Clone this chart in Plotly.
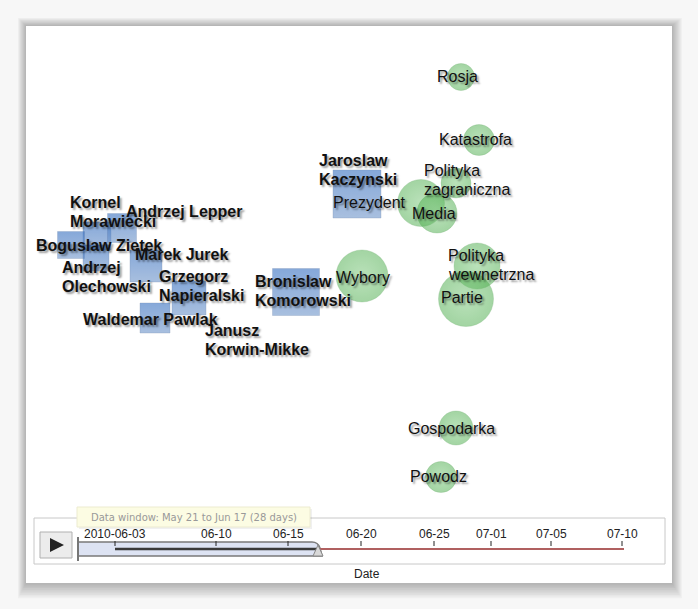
import plotly.graph_objects as go

# ---------------- data ----------------
person_names = ["Kornel Morawiecki", "Andrzej Lepper", "Boguslaw Zietek", "Andrzej Olechowski",
                "Marek Jurek", "Grzegorz Napieralski", "Waldemar Pawlak", "Janusz Korwin-Mikke",
                "Bronislaw Komorowski", "Jaroslaw Kaczynski"]
person_labels = ["Kornel<br>Morawiecki", "Andrzej Lepper", "Boguslaw Zietek", "Andrzej<br>Olechowski",
                 "Marek Jurek", "Grzegorz<br>Napieralski", "Waldemar Pawlak", "Janusz<br>Korwin-Mikke",
                 "Bronislaw<br>Komorowski", "Jaroslaw<br>Kaczynski"]
person_x = [97, 122, 71, 96, 146, 189, 155, 230, 296, 357]
person_y = [236, 228, 245, 258, 266, 298, 318, 338, 292, 194]
person_size = [28, 29, 27, 26, 32, 34, 30, 0, 47, 48]
person_label_x = [68, 124, 34, 60, 133, 157, 81, 203, 253, 317]
person_label_y = [212, 211, 245, 277, 254, 286, 319, 340, 291, 170]

topic_names = ["Rosja", "Katastrofa", "Polityka zagraniczna", "Prezydent", "Media", "Wybory",
               "Polityka wewnetrzna", "Partie", "Gospodarka", "Powodz"]
topic_labels = ["Rosja", "Katastrofa", "Polityka<br>zagraniczna", "Prezydent", "Media", "Wybory",
                "Polityka<br>wewnetrzna", "Partie", "Gospodarka", "Powodz"]
topic_x = [461, 479, 456, 421, 437, 362, 477, 466, 456, 441]
topic_y = [77, 140, 183, 203, 213, 276, 266, 299, 428, 477]
topic_size = [27, 31, 30, 47, 40, 52, 46, 55, 34, 31]
topic_label_x = [435, 437, 422, 331, 410, 334, 446, 439, 406, 408]
topic_label_y = [76, 139, 180, 202, 213, 277, 265, 297, 428, 476]

tick_labels = ["2010-06-03", "06-10", "06-15", "06-20", "06-25", "07-01", "07-05", "07-10"]
tick_pos = [115, 216, 288, 361, 434, 491, 551, 622]
window_text = "Data window: May 21 to Jun 17 (28 days)"
axis_title = "Date"

# ---------------- figure ----------------
W, H = 698, 609
LINE_GAP = 18.5
fig = go.Figure()

fig.add_trace(go.Scatter(
    x=topic_x, y=topic_y, mode="markers", text=topic_names, hoverinfo="text",
    marker=dict(symbol="circle", size=topic_size, color="rgba(80,175,80,0.75)",
                gradient=dict(type="radial", color="rgba(125,200,125,0.75)"),
                line=dict(width=0.6, color="rgba(70,150,70,0.5)")),
    showlegend=False))

fig.add_trace(go.Scatter(
    x=person_x, y=person_y, mode="markers", text=person_names, hoverinfo="text",
    marker=dict(symbol="square", size=person_size, color="rgba(45,105,190,0.82)",
                gradient=dict(type="vertical", color="rgba(105,145,200,0.82)"),
                line=dict(width=0.6, color="rgba(70,100,150,0.5)")),
    showlegend=False))

shadow = "2px 2px 2px rgba(0,0,0,0.4)"
annotations = []


def add_label(text, lx, cy, bold, size):
    lines = text.split("<br>")
    n = len(lines)
    for i, ln in enumerate(lines):
        y = cy + (i - (n - 1) / 2) * LINE_GAP
        annotations.append(dict(x=lx, y=y, text=("<b>%s</b>" % ln) if bold else ln, showarrow=False,
                                xanchor="left", yanchor="middle", align="left",
                                font=dict(family="Liberation Sans, Arial", size=size,
                                          color="#111", shadow=shadow)))


for t, lx, ly in zip(topic_labels, topic_label_x, topic_label_y):
    add_label(t, lx, ly, False, 16)
for t, lx, ly in zip(person_labels, person_label_x, person_label_y):
    add_label(t, lx, ly, True, 16)

shapes = []
# panel shadow
for i in range(1, 10):
    shapes.append(dict(type="rect", x0=26 - i * 0.9, x1=672 + i * 1.1, y0=26 - i * 0.9, y1=583 + i * 1.7,
                       fillcolor="rgba(0,0,0,0.03)", line=dict(width=0), layer="below"))
shapes.append(dict(type="rect", x0=26, x1=672, y0=26, y1=583, fillcolor="white",
                   line=dict(width=0), layer="below"))

# timeline box
shapes.append(dict(type="rect", x0=34, x1=665, y0=518, y1=564, fillcolor="white",
                   line=dict(width=1, color="#c8c8c8")))
# play button
shapes.append(dict(type="rect", x0=40, x1=72, y0=532, y1=558, fillcolor="#ececec",
                   line=dict(width=1, color="#b0b0b0")))
shapes.append(dict(type="path", path="M 50 538 L 50 552 L 64 545 Z", fillcolor="#222",
                   line=dict(width=0)))
# window
shapes.append(dict(type="path",
                   path="M 78 542 L 312 542 Q 318 542 320 548 L 322 556 L 78 556 Z",
                   fillcolor="#dde3f3", line=dict(width=1.5, color="#7a7a7a")))
shapes.append(dict(type="line", x0=78, x1=78, y0=537, y1=561, line=dict(width=2, color="#777")))
# lines
shapes.append(dict(type="line", x0=tick_pos[0], x1=318, y0=549, y1=549, line=dict(width=2.5, color="#3a3a3a")))
shapes.append(dict(type="line", x0=318, x1=624, y0=549, y1=549, line=dict(width=2, color="#b06060")))
shapes.append(dict(type="path", path="M 313 556 L 323 556 L 318 545 Z", fillcolor="#d8d8d8",
                   line=dict(width=1, color="#888")))
for p in tick_pos:
    shapes.append(dict(type="line", x0=p, x1=p, y0=541, y1=546, line=dict(width=1, color="#222")))
for lab, p in zip(tick_labels, tick_pos):
    annotations.append(dict(x=p, y=534, text=lab, showarrow=False, xanchor="center", yanchor="middle",
                            font=dict(family="Liberation Sans, Arial", size=12, color="#222")))
annotations.append(dict(x=367, y=574, text=axis_title, showarrow=False, xanchor="center", yanchor="middle",
                        font=dict(family="Liberation Sans, Arial", size=12, color="#222")))
# tooltip
shapes.append(dict(type="rect", x0=79, x1=312, y0=509, y1=529, fillcolor="rgba(0,0,0,0.06)",
                   line=dict(width=0)))
shapes.append(dict(type="rect", x0=77, x1=310, y0=507, y1=527, fillcolor="#fcfce3",
                   line=dict(width=1, color="#ecebd0")))
annotations.append(dict(x=194, y=517, text=window_text, showarrow=False, xanchor="center", yanchor="middle",
                        font=dict(family="DejaVu Sans, Verdana", size=10, color="#999")))

fig.update_layout(
    width=W, height=H, margin=dict(l=0, r=0, t=0, b=0),
    paper_bgcolor="#f7f7f7", plot_bgcolor="rgba(0,0,0,0)",
    xaxis=dict(range=[0, W], visible=False, fixedrange=True),
    yaxis=dict(range=[H, 0], visible=False, fixedrange=True),
    shapes=shapes, annotations=annotations,
)

fig.write_html("out.html", config={"displayModeBar": False})
